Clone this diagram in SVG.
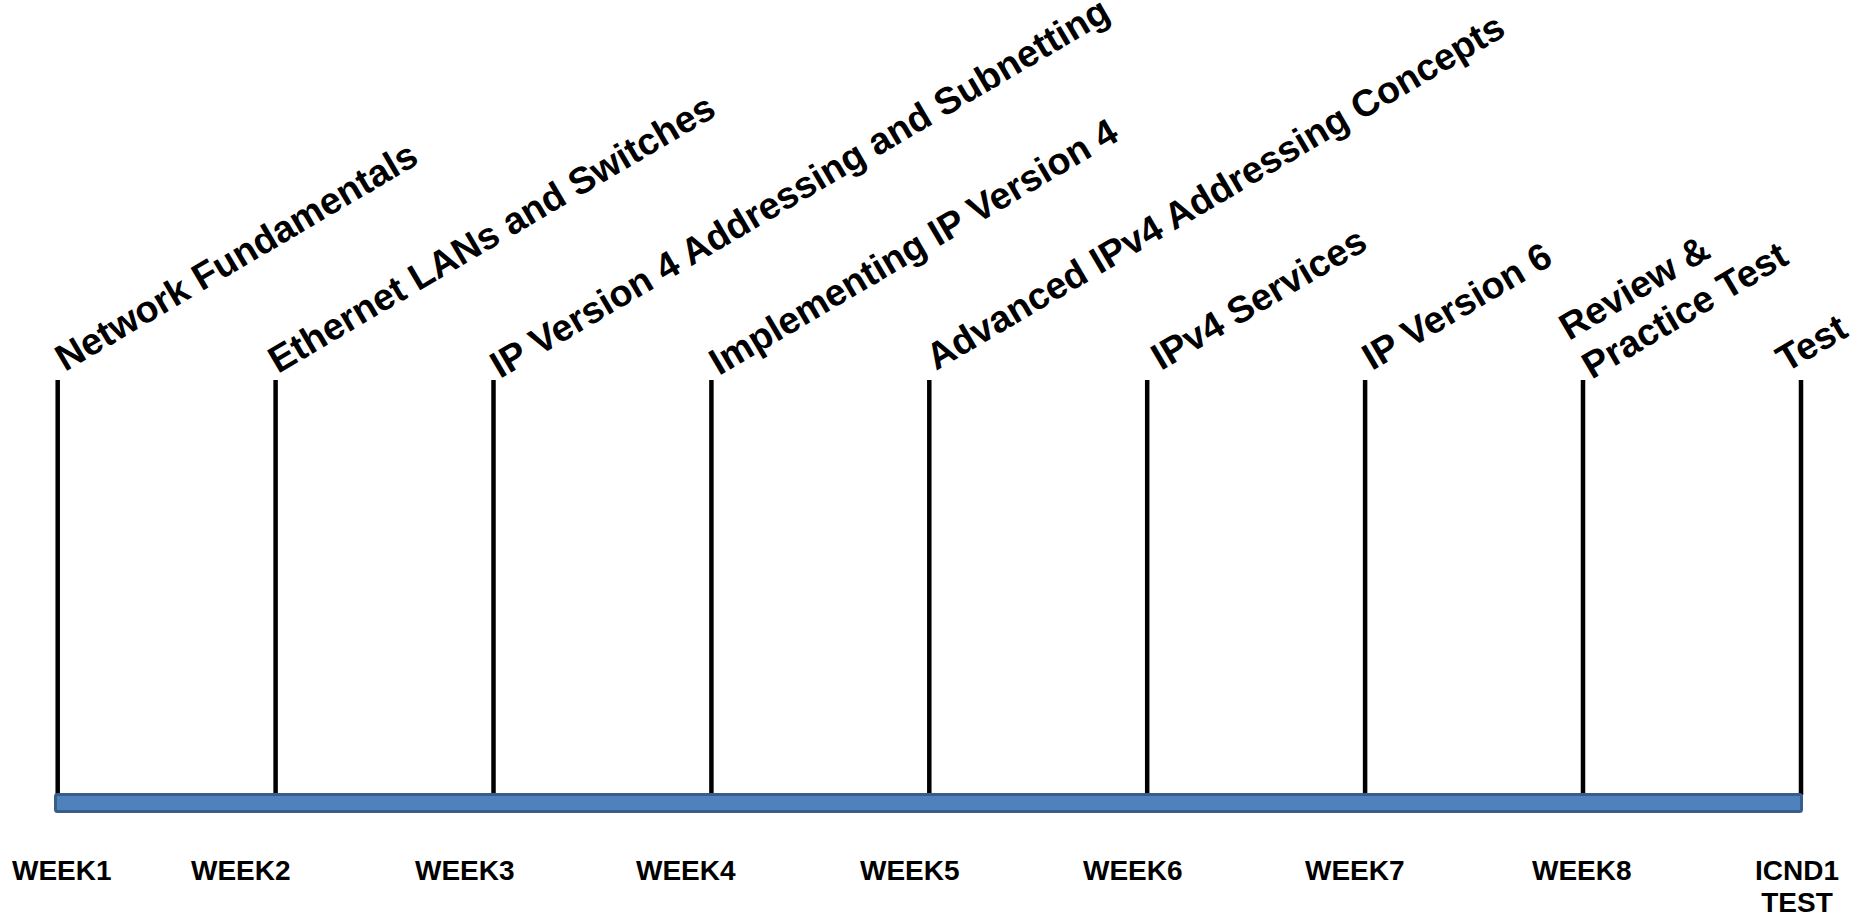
<svg xmlns="http://www.w3.org/2000/svg" width="1867" height="916" viewBox="0 0 1867 916">
<style>
.tick{stroke:#000;stroke-width:4.5;fill:none}
.bar{fill:#4F81BD;stroke:#385D8A;stroke-width:3}
.topic{font-family:"Liberation Sans",Arial,sans-serif;font-weight:bold;font-size:37.5px;fill:#000}
.week{font-family:"Liberation Sans",Arial,sans-serif;font-weight:bold;font-size:28px;fill:#000}
</style>
<rect width="1867" height="916" fill="#fff"/>
<g id="connectors">
<line class="tick" x1="57.7" y1="380" x2="57.7" y2="795"/>
<line class="tick" x1="275.6" y1="380" x2="275.6" y2="795"/>
<line class="tick" x1="493.5" y1="380" x2="493.5" y2="795"/>
<line class="tick" x1="711.4" y1="380" x2="711.4" y2="795"/>
<line class="tick" x1="929.3" y1="380" x2="929.3" y2="795"/>
<line class="tick" x1="1147.2" y1="380" x2="1147.2" y2="795"/>
<line class="tick" x1="1365.1" y1="380" x2="1365.1" y2="795"/>
<line class="tick" x1="1583" y1="380" x2="1583" y2="795"/>
<line class="tick" x1="1801" y1="380" x2="1801" y2="795"/>
</g>
<g id="timeline">
<rect class="bar" x="55.5" y="794.5" width="1746" height="17" rx="2"/>
</g>
<g id="topic1"><text class="topic" transform="translate(65,372) rotate(-30.5)">Network Fundamentals</text></g>
<g id="topic2"><text class="topic" transform="translate(278,374) rotate(-30.5)">Ethernet LANs and Switches</text></g>
<g id="topic3"><text class="topic" transform="translate(500,379) rotate(-30.5)">IP Version 4 Addressing and Subnetting</text></g>
<g id="topic4"><text class="topic" transform="translate(719,376) rotate(-30.5)">Implementing IP Version 4</text></g>
<g id="topic5"><text class="topic" transform="translate(936,371) rotate(-30.5)">Advanced IPv4 Addressing Concepts</text></g>
<g id="topic6"><text class="topic" transform="translate(1161,371) rotate(-30.5)">IPv4 Services</text></g>
<g id="topic7"><text class="topic" transform="translate(1372,371) rotate(-30.5)">IP Version 6</text></g>
<g id="topic8"><text class="topic" transform="translate(1569,341) rotate(-30.5)"><tspan x="0" y="0">Review &amp;</tspan><tspan x="0" y="45">Practice Test</tspan></text></g>
<g id="topic9"><text class="topic" transform="translate(1786,373) rotate(-30.5)">Test</text></g>
<g id="weeks">
<text class="week" x="12" y="880">WEEK1</text>
<text class="week" x="191" y="880">WEEK2</text>
<text class="week" x="415" y="880">WEEK3</text>
<text class="week" x="636" y="880">WEEK4</text>
<text class="week" x="860" y="880">WEEK5</text>
<text class="week" x="1083" y="880">WEEK6</text>
<text class="week" x="1305" y="880">WEEK7</text>
<text class="week" x="1532" y="880">WEEK8</text>
<text class="week" x="1797" y="880" text-anchor="middle">ICND1</text>
<text class="week" x="1797" y="912" text-anchor="middle">TEST</text>
</g>
</svg>
